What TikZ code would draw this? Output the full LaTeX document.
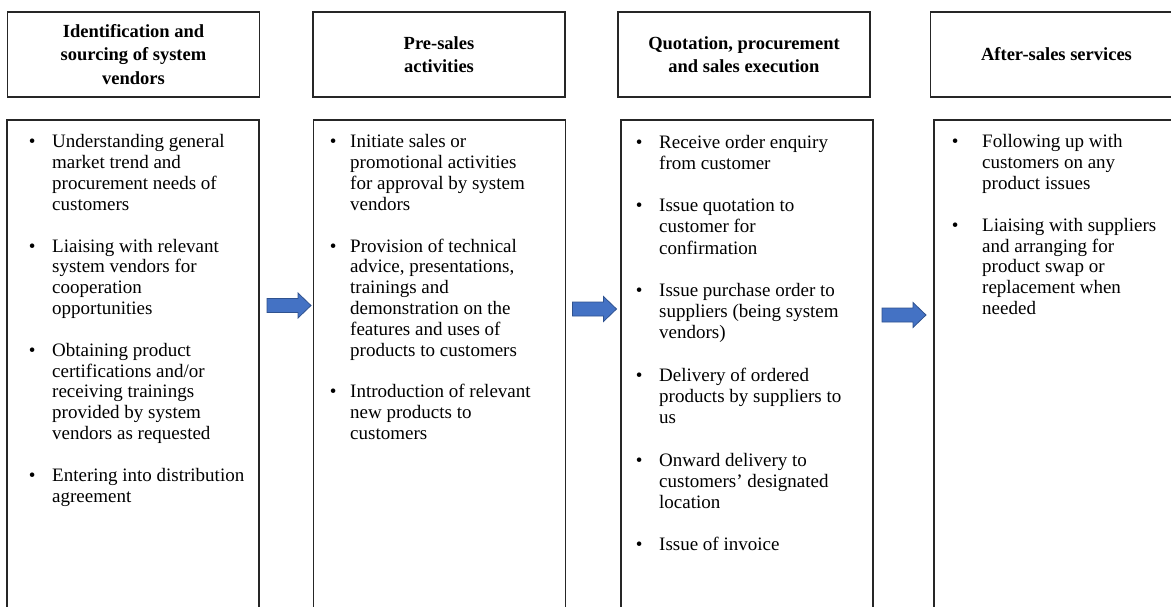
\documentclass[tikz,border=0pt]{standalone}
\usepackage{fontspec}
\setmainfont{Liberation Serif}
\definecolor{edge}{HTML}{262626}
\definecolor{arrowfill}{HTML}{4472C4}
\definecolor{arrowedge}{HTML}{2F528F}
\newcommand\bul[1]{\llap{\textbullet\hspace{#1}}}
\tikzset{
  headbox/.style={draw=edge, line width=1.2pt, align=center, inner sep=0pt,
    font=\fontsize{18.5}{23.5}\selectfont\bfseries, minimum width=252pt, minimum height=85pt},
  listbox/.style={draw=edge, line width=1.2pt, inner sep=0pt, anchor=north,
    minimum width=252pt, minimum height=540pt},
  listtext/.style={anchor=north west, inner sep=0pt, align=left,
    font=\fontsize{19}{20.85}\selectfont},
  blockarrow/.pic={\draw[fill=arrowfill, draw=arrowedge, line width=0.8pt]
    (-22,-7) -- (9,-7) -- (9,-12.5) -- (22,0) -- (9,12.5) -- (9,7) -- (-22,7) -- cycle;}
}
\begin{document}
\begin{tikzpicture}[x=1pt,y=-1pt]
\useasboundingbox (0,0) rectangle (1171,607);
\clip (0,0) rectangle (1171,607);

\node[headbox] (h1) at (133.5,54.5) {Identification and\\sourcing of system\\vendors};
\node[headbox] (h2) at (439,54.5) {Pre-sales\\activities};
\node[headbox] (h3) at (744,54.5) {Quotation, procurement\\and sales execution};
\node[headbox] (h4) at (1056.5,54.5) {After-sales services};

\node[listbox] (b1) at (133,119.5) {};
\node[listbox] (b2) at (439.5,119.5) {};
\node[listbox] (b3) at (747,119.5) {};
\node[listbox] (b4) at (1060,119.5) {};

\node[listtext] (t1) at (52,133) {\begin{tabular}{@{}l@{}}
\bul{16.7pt}Understanding general\\
market trend and\\
procurement needs of\\
customers\\
\\
\bul{16.7pt}Liaising with relevant\\
system vendors for\\
cooperation\\
opportunities\\
\\
\bul{16.7pt}Obtaining product\\
certifications and/or\\
receiving trainings\\
provided by system\\
vendors as requested\\
\\
\bul{16.7pt}Entering into distribution\\
agreement
\end{tabular}};

\node[listtext] (t2) at (350,133) {\begin{tabular}{@{}l@{}}
\bul{13.7pt}Initiate sales or\\
promotional activities\\
for approval by system\\
vendors\\
\\
\bul{13.7pt}Provision of technical\\
advice, presentations,\\
trainings and\\
demonstration on the\\
features and uses of\\
products to customers\\
\\
\bul{13.7pt}Introduction of relevant\\
new products to\\
customers
\end{tabular}};

\node[listtext, font=\fontsize{19}{21.2}\selectfont] (t3) at (659,133) {\begin{tabular}{@{}l@{}}
\bul{16.7pt}Receive order enquiry\\
from customer\\
\\
\bul{16.7pt}Issue quotation to\\
customer for\\
confirmation\\
\\
\bul{16.7pt}Issue purchase order to\\
suppliers (being system\\
vendors)\\
\\
\bul{16.7pt}Delivery of ordered\\
products by suppliers to\\
us\\
\\
\bul{16.7pt}Onward delivery to\\
customers' designated\\
location\\
\\
\bul{16.7pt}Issue of invoice
\end{tabular}};

\node[listtext] (t4) at (982,133) {\begin{tabular}{@{}l@{}}
\bul{23.7pt}Following up with\\
customers on any\\
product issues\\
\\
\bul{23.7pt}Liaising with suppliers\\
and arranging for\\
product swap or\\
replacement when\\
needed
\end{tabular}};

\pic (a1) at (289,305.5) {blockarrow};
\pic (a2) at (594.5,309) {blockarrow};
\pic (a3) at (904,315) {blockarrow};
\end{tikzpicture}
\end{document}
